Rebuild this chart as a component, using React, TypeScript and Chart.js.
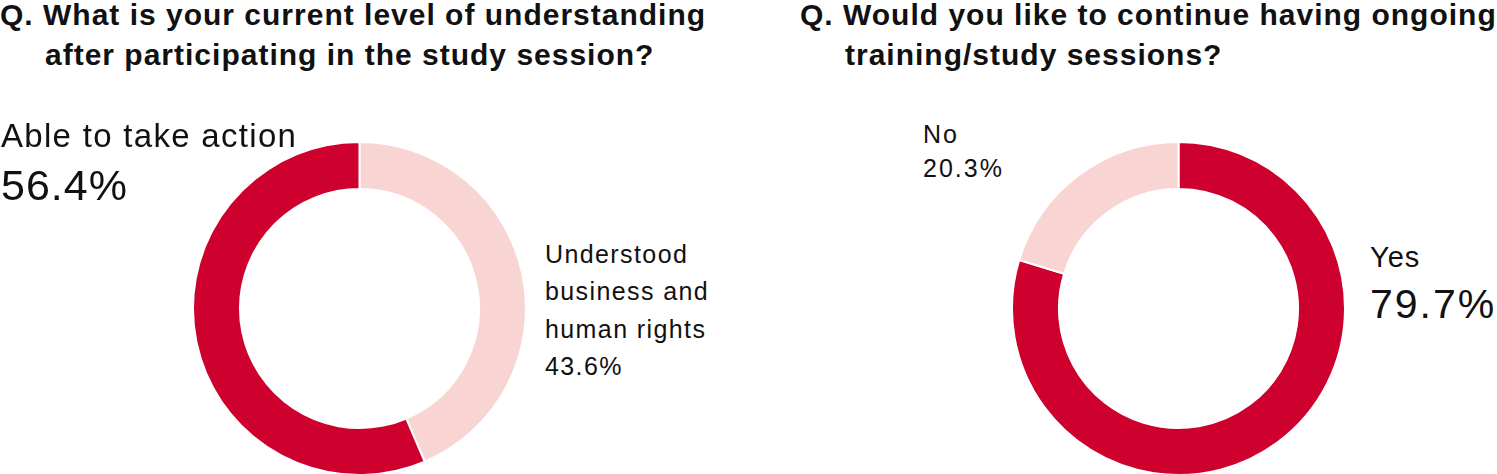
import React, { useEffect, useRef } from "react";
import { Chart, registerables } from "chart.js";

Chart.register(...registerables);

// Survey results (percent)
const understandingLabels = ["Understood business and human rights", "Able to take action"];
const understandingValues = [43.6, 56.4];

const continueLabels = ["Yes", "No"];
const continueValues = [79.7, 20.3];

const RED = "#CE002E";
const PINK = "#F8D5D3";

const TEXT_FONT = "'Liberation Sans', Arial, Helvetica, sans-serif";

type DonutProps = {
  labels: string[];
  values: number[];
  colors: string[];
  left: number;
  top: number;
  size: number;
};

function Donut({ labels, values, colors, left, top, size }: DonutProps) {
  const ref = useRef<HTMLCanvasElement | null>(null);
  useEffect(() => {
    if (!ref.current) return;
    const chart = new Chart(ref.current, {
      type: "doughnut",
      data: {
        labels,
        datasets: [
          {
            data: values,
            backgroundColor: colors,
            borderColor: "#ffffff",
            borderWidth: 2,
            hoverOffset: 0,
          },
        ],
      },
      options: {
        responsive: false,
        animation: false,
        cutout: "71.8%",
        rotation: 0,
        layout: { padding: 0 },
        plugins: {
          legend: { display: false },
          tooltip: { enabled: false },
        },
      },
    });
    return () => chart.destroy();
  }, []);
  return (
    <canvas
      ref={ref}
      width={size}
      height={size}
      style={{ position: "absolute", left, top, width: size, height: size }}
    />
  );
}

type TextProps = {
  x: number;
  baseline: number;
  size: number;
  lineHeight: number;
  weight?: number;
  spacing?: number;
  lines: string[];
  indent?: number;
};

// Positions a block of text so that its first line's baseline lands at `baseline`.
function TextBlock({ x, baseline, size, lineHeight, weight = 400, spacing = 0, lines, indent = 0 }: TextProps) {
  const top = baseline - lineHeight / 2 - 0.3465 * size;
  return (
    <div
      style={{
        position: "absolute",
        left: x,
        top,
        fontFamily: TEXT_FONT,
        fontSize: size,
        lineHeight: `${lineHeight}px`,
        fontWeight: weight,
        letterSpacing: `${spacing}px`,
        color: "#111",
        whiteSpace: "nowrap",
      }}
    >
      {lines.map((l, i) => (
        <div key={i} style={{ paddingLeft: i > 0 ? indent : 0 }}>
          {l}
        </div>
      ))}
    </div>
  );
}

export default function App() {
  useEffect(() => {
    document.body.style.margin = "0";
  }, []);
  return (
    <div
      style={{
        position: "fixed",
        left: 0,
        top: 0,
        width: 1497,
        height: 474,
        overflow: "hidden",
        background: "#fff",
      }}
    >
      <TextBlock
        x={0}
        baseline={25}
        size={30}
        lineHeight={40}
        weight={700}
        spacing={1}
        indent={45}
        lines={["Q. What is your current level of understanding", "after participating in the study session?"]}
      />
      <TextBlock
        x={800}
        baseline={25}
        size={30}
        lineHeight={40}
        weight={700}
        spacing={1}
        indent={45}
        lines={["Q. Would you like to continue having ongoing", "training/study sessions?"]}
      />

      <Donut
        labels={understandingLabels}
        values={understandingValues}
        colors={[PINK, RED]}
        left={192}
        top={140.5}
        size={335}
      />
      <Donut
        labels={continueLabels}
        values={continueValues}
        colors={[RED, PINK]}
        left={1011}
        top={140.5}
        size={335}
      />

      <TextBlock x={1} baseline={147} size={33} lineHeight={40} spacing={1.3} lines={[understandingLabels[1]]} />
      <TextBlock x={1} baseline={200} size={43} lineHeight={50} spacing={1} lines={[`${understandingValues[1]}%`]} />
      <TextBlock
        x={545}
        baseline={263}
        size={25}
        lineHeight={37.5}
        spacing={1.4}
        lines={["Understood", "business and", "human rights", `${understandingValues[0]}%`]}
      />

      <TextBlock
        x={923}
        baseline={143}
        size={25}
        lineHeight={34}
        spacing={2}
        lines={[continueLabels[1], `${continueValues[1]}%`]}
      />
      <TextBlock x={1370} baseline={267} size={29} lineHeight={40} spacing={1} lines={[continueLabels[0]]} />
      <TextBlock x={1370} baseline={318} size={41} lineHeight={50} spacing={2} lines={[`${continueValues[0]}%`]} />
    </div>
  );
}
